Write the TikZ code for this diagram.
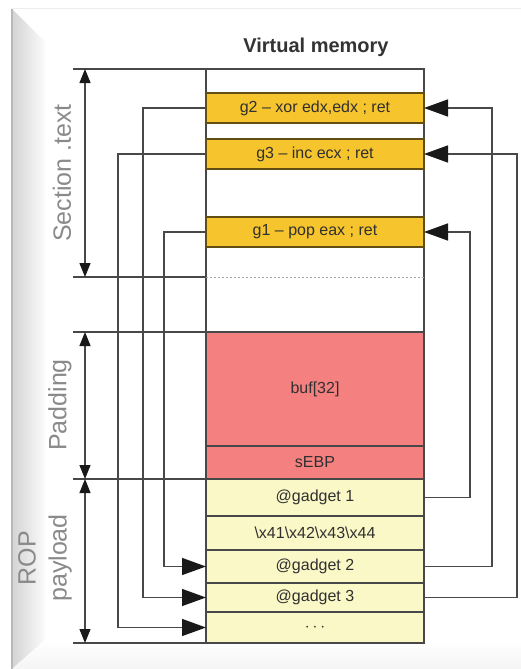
\documentclass[tikz,border=0pt]{standalone}
\usepackage{fontspec}
\setmainfont{Liberation Sans}
\usetikzlibrary{arrows.meta,calc}
\definecolor{gadgetgold}{HTML}{F6C42C}
\definecolor{padred}{HTML}{F48080}
\definecolor{payyellow}{HTML}{FAF8C6}
\definecolor{linec}{HTML}{484848}
\definecolor{labelc}{HTML}{8A8A8A}
\definecolor{textc}{HTML}{303030}
\begin{document}
\begin{tikzpicture}[x=1pt,y=-1pt,
  cell/.style={draw=linec, line width=1.2pt, minimum width=218pt, inner sep=0pt,
               outer sep=0pt, text=textc, font=\fontsize{16}{18}\selectfont},
  gadget/.style={cell, fill=gadgetgold, draw=black!60!gadgetgold, minimum height=30pt},
  pad/.style={cell, fill=padred},
  pay/.style={cell, fill=payyellow},
  link/.style={draw=linec, line width=1.4pt,
               -{Triangle[length=24pt,width=17pt,color=black!90]}},
  dim/.style={draw=linec, line width=1.2pt,
              {Triangle[length=14pt,width=11pt,color=black!90]}-{Triangle[length=14pt,width=11pt,color=black!90]}},
  side/.style={text=labelc, rotate=90, font=\fontsize{25}{31}\selectfont, align=center},
  rule/.style={draw=linec, line width=1.2pt}]
\useasboundingbox (0,0) rectangle (521,669);

% frame of the sheet
\fill[white] (0,0) rectangle (521,669);
\shade[left color=gray!34, right color=gray!3] (12,9) -- (45,42) -- (45,640) -- (12,669) -- cycle;
\shade[top color=white, bottom color=gray!8] (45,640) -- (521,640) -- (521,669) -- (12,669) -- cycle;
\draw[gray!55, line width=1.2pt] (12,9) -- (12,669);
\draw[gray!15, line width=0.8pt] (12,8) -- (521,8);

% title
\node[font=\bfseries\fontsize{20}{24}\selectfont, text=black!80] (title) at (316,47) {Virtual memory};

% memory column
\node[cell, fill=white, minimum height=574pt] (col) at (315,356) {};

% .text gadgets
\node[gadget] (g2) at (315,108) {g2 -- xor edx,edx ; ret};
\node[gadget] (g3) at (315,154) {g3 -- inc ecx ; ret};
\node[gadget] (g1) at (315,232) {g1 -- pop eax ; ret};

% stack frame
\node[pad, minimum height=114pt] (buf) at (315,389) {buf[32]};
\node[pad, minimum height=33pt] (sebp) at (315,462.5) {sEBP};

% ROP payload
\node[pay, minimum height=37pt] (gad1) at (315,497.5) {@gadget 1};
\node[pay, minimum height=34pt] (hex) at (315,533) {\textbackslash x41\textbackslash x42\textbackslash x43\textbackslash x44};
\node[pay, minimum height=33pt] (gad2) at (315,566.5) {@gadget 2};
\node[pay, minimum height=29pt] (gad3) at (315,597.5) {@gadget 3};
\node[pay, minimum height=31pt] (dots) at (315,627.5) {\raisebox{-2pt}{$\cdots$}};

% section boundaries
\coordinate (t0) at (73,69);
\coordinate (t1) at (73,277);
\coordinate (t2) at (73,332);
\coordinate (t3) at (73,479);
\coordinate (t4) at (73,643);
\coordinate (dl) at (206,277);
\coordinate (dr) at (424,277);
\draw[rule] (t0) -- (col.north west);
\draw[rule] (t1) -- (dl);
\draw[gray!70, line width=1pt, dash pattern=on 2pt off 2pt] (dl) -- (dr);
\draw[rule] (t2) -- (buf.north west);
\draw[rule] (t3) -- (sebp.south west);
\draw[rule] (t4) -- (col.south west);

% section extents
\coordinate (a0) at (85,69);
\coordinate (a1) at (85,277);
\coordinate (a2) at (85,332);
\coordinate (a3) at (85,479);
\coordinate (a4) at (85,643);
\draw[dim] (a0) -- (a1);
\draw[dim] (a2) -- (a3);
\draw[dim] (a3) -- (a4);

\node[side] (ltext) at (62,173) {Section .text};
\node[side] (lpad) at (60,405) {Padding};
\node[side] (lrop) at (45,558) {ROP\\payload};

% gadget chain: returns into the next payload slot
\draw[link] (g1.west) -- ++(-42,0) |- (gad2.west);
\draw[link] (g2.west) -- ++(-63,0) |- (gad3.west);
\draw[link] (g3.west) -- ++(-88,0) |- (dots.west);

% payload addresses pointing at gadgets
\draw[link] (gad1.east) -- ++(46,0) |- (g1.east);
\draw[link] (gad2.east) -- ++(68,0) |- (g2.east);
\draw[link] (gad3.east) -- ++(93,0) |- (g3.east);
\end{tikzpicture}
\end{document}
